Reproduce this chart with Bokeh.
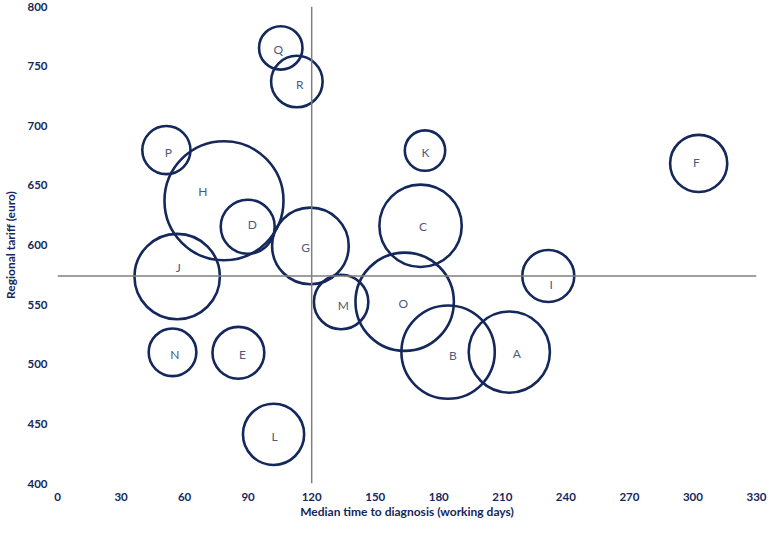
from bokeh.plotting import figure
from bokeh.models import Range1d, FixedTicker, Span, ColumnDataSource
from bokeh.embed import file_html
from bokeh.resources import INLINE
from bokeh.core.properties import value
import numpy as np

# ---- data ----
labels = ["A", "B", "C", "D", "E", "F", "G", "H", "I", "J",
          "K", "L", "M", "N", "O", "P", "Q", "R"]
median_days = [213.3, 184.4, 171.4, 89.8, 85.4, 302.7, 119.4, 78.6, 231.7, 56.5,
               173.5, 102.0, 133.9, 54.3, 163.9, 51.4, 105.4, 113.0]
tariff = [510.2, 510.2, 616.1, 615.3, 509.6, 668.4, 599.2, 637.1, 574.0, 573.5,
          679.2, 441.2, 552.2, 510.0, 552.4, 679.6, 765.3, 737.1]
volume = [412, 545, 424, 182, 168, 204, 367, 885, 169, 456,
          102, 234, 185, 142, 605, 145, 118, 166]
label_x = [216.9, 186.7, 172.5, 92.0, 87.3, 301.6, 117.2, 68.6, 233.1, 57.0,
           173.7, 102.5, 134.9, 55.4, 163.2, 52.3, 104.2, 114.4]
label_y = [508.8, 507.5, 615.8, 617.1, 508.0, 669.4, 597.8, 644.9, 566.8, 581.5,
           677.6, 439.4, 549.6, 508.0, 551.0, 677.6, 763.8, 734.7]

x_ticks = [0, 30, 60, 90, 120, 150, 180, 210, 240, 270, 300, 330]
y_ticks = [400, 450, 500, 550, 600, 650, 700, 750, 800]
x_ref = 120      # reference median time
y_ref = 574      # reference tariff
x_title = "Median time to diagnosis (working days)"
y_title = "Regional tariff (euro)"

NAVY = "#14285c"
FONT = "Lato"

src = ColumnDataSource(dict(
    x=median_days, y=tariff, lab=labels,
    diam=[4.0 * np.sqrt(v) for v in volume],
    lx=label_x, ly=label_y,
))

p = figure(width=768, height=521, output_backend="svg", toolbar_location=None,
           x_range=Range1d(x_ticks[0], x_ticks[-1]),
           y_range=Range1d(y_ticks[0], y_ticks[-1]),
           min_border_left=40, min_border_right=12, min_border_top=6,
           min_border_bottom=10)
p.outline_line_color = None
p.xgrid.visible = False
p.ygrid.visible = False

for ax in (p.xaxis[0], p.yaxis[0]):
    ax.axis_line_color = None
    ax.major_tick_line_color = None
    ax.minor_tick_line_color = None
    ax.major_tick_out = 0
    ax.major_tick_in = 0
    ax.minor_tick_out = 0
    ax.minor_tick_in = 0
    ax.major_label_text_font = FONT
    ax.major_label_text_font_style = "bold"
    ax.major_label_text_font_size = "11.5px"
    ax.major_label_text_color = NAVY
    ax.axis_label_text_font = FONT
    ax.axis_label_text_font_style = "bold"
    ax.axis_label_text_font_size = "12px"
    ax.axis_label_text_color = NAVY

p.xaxis.ticker = FixedTicker(ticks=x_ticks)
p.yaxis.ticker = FixedTicker(ticks=y_ticks)
p.xaxis.axis_label = x_title
p.yaxis.axis_label = y_title
p.xaxis.major_label_standoff = 9
p.xaxis.axis_label_standoff = 0
p.yaxis.major_label_standoff = 10
p.yaxis.axis_label_standoff = 6

p.add_layout(Span(location=x_ref, dimension="height", line_color="#7f7f7f", line_width=1.5))
p.add_layout(Span(location=y_ref, dimension="width", line_color="#7f7f7f", line_width=1.5))

p.scatter("x", "y", size="diam", source=src, marker="circle",
          fill_color=None, line_color=NAVY, line_width=2.6)
p.text("lx", "ly", text="lab", source=src, text_align="center",
       text_baseline="middle", text_font=value(FONT), text_font_size="12px",
       text_color="#4c5a80")

open("out.html", "w").write(file_html(p, INLINE))
